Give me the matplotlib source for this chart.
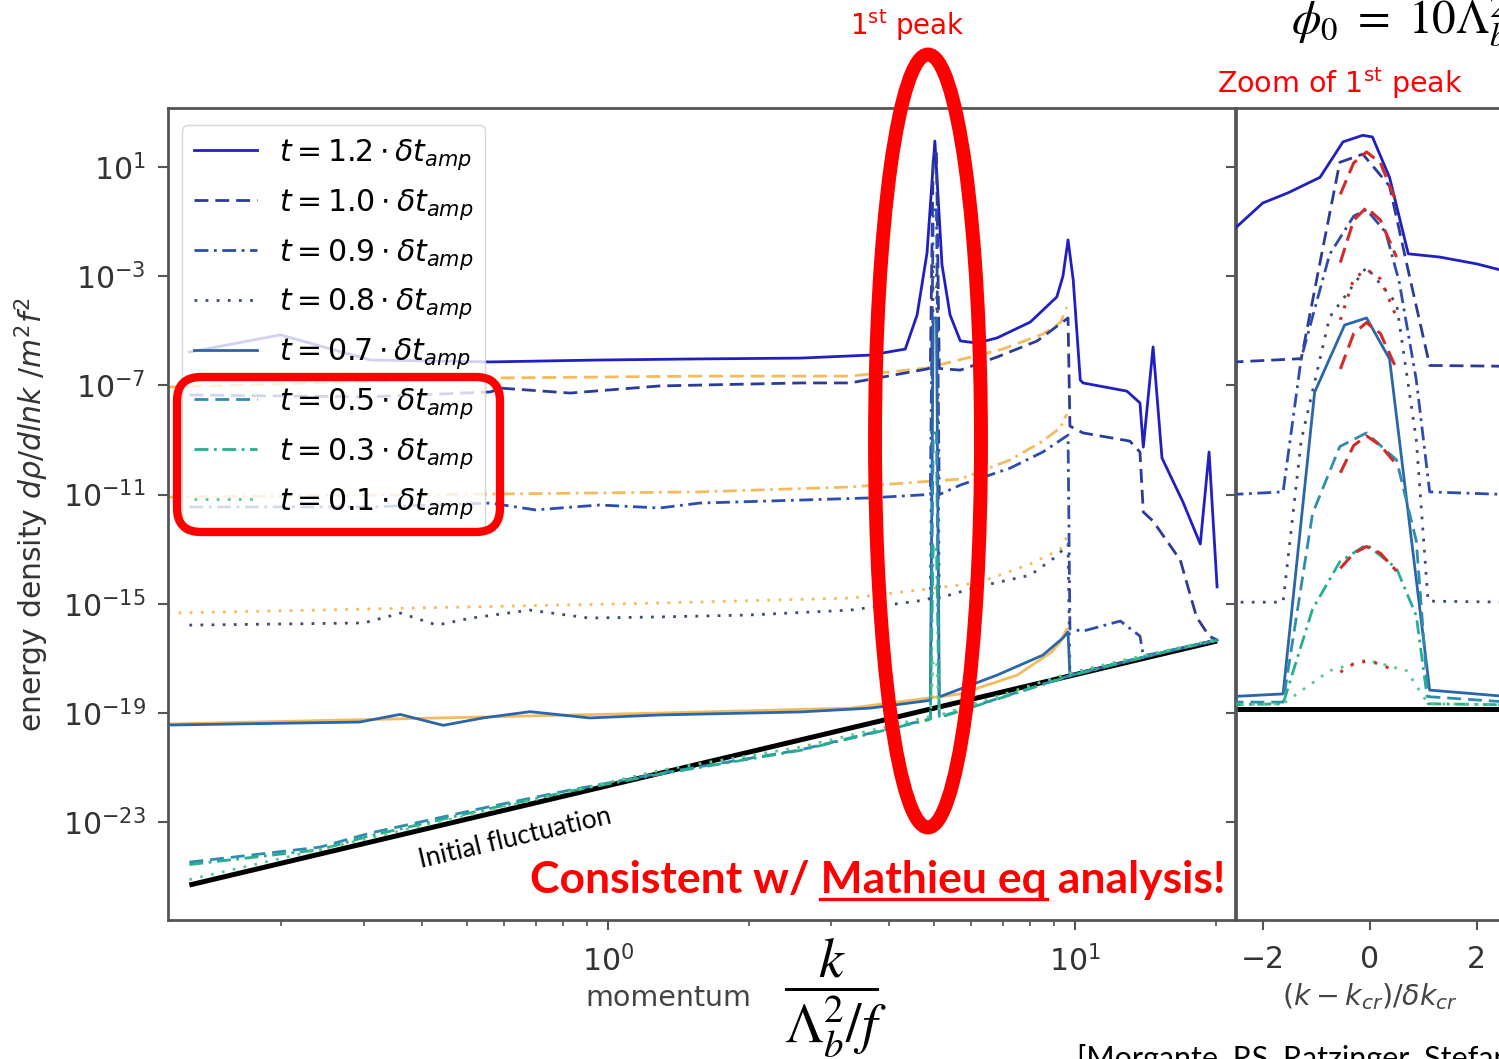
import numpy as np
import matplotlib
matplotlib.use('Agg')
import matplotlib.pyplot as plt
import matplotlib.transforms as mtransforms
from matplotlib.patches import Ellipse, FancyBboxPatch
from matplotlib.lines import Line2D
from matplotlib.ticker import FixedLocator, NullLocator, NullFormatter

W, H = 1499, 1059

# ---- main panel: momentum k  vs  log10(energy density) ----
k_t12 = [0.127, 0.199, 0.31, 0.56, 0.96, 1.57, 2.58, 3.64, 4.33, 4.59, 4.82, 5.01, 5.19, 5.40, 5.68, 6.17,
         6.81, 8.02, 9.14, 9.42, 9.66, 9.91, 10.26, 10.40, 12.91, 13.77, 14.0, 14.69, 15.35, 17.02, 18.54,
         19.36, 20.14]
lr_t12 = [-5.78, -5.15, -6.07, -6.14, -6.07, -6.03, -6.00, -5.89, -5.67, -4.42, -2.15, 1.95, -2.59, -4.42,
          -5.37, -5.45, -5.26, -4.68, -3.76, -3.00, -1.67, -3.14, -6.80, -6.91, -7.21, -7.64, -9.26, -5.59,
          -9.66, -11.27, -12.81, -9.44, -14.38]

k_t10 = [0.127, 0.31, 0.56, 0.59, 0.83, 1.29, 2.58, 3.30, 4.82, 4.90, 4.97, 5.05, 5.12, 5.68, 6.81, 8.3,
         9.66, 9.75, 10.40, 13.1, 13.77, 14.0, 14.69, 16.8, 18.2, 19.36, 20.14]
lr_t10 = [-7.35, -7.42, -7.24, -7.10, -7.28, -7.02, -6.91, -6.91, -6.40, -6.36, 1.50, 1.50, -6.38, -6.44,
          -5.96, -5.37, -4.53, -8.49, -8.74, -9.04, -9.44, -11.64, -11.97, -13.40, -15.48, -16.18, -16.33]

k_t09 = [0.127, 0.31, 0.56, 0.70, 0.96, 1.29, 1.57, 2.58, 3.64, 4.82, 4.90, 4.97, 5.05, 5.12, 5.68, 7.26,
         8.53, 9.66, 9.75, 10.40, 12.5, 13.77, 14.0, 16.0, 20.14]
lr_t09 = [-11.45, -11.45, -11.31, -11.56, -11.38, -11.49, -11.31, -11.20, -11.12, -11.00, -11.00, -0.57,
          -0.57, -11.00, -10.65, -10.03, -9.44, -8.82, -15.92, -16.00, -15.63, -16.18, -16.90, -16.72, -16.33]

k_t08 = [0.127, 0.30, 0.36, 0.43, 0.51, 0.68, 0.91, 1.29, 2.0, 3.30, 4.82, 4.90, 4.97, 5.05, 5.12, 6.17,
         8.02, 9.14, 9.66, 9.75, 13.0, 16.0, 20.14]
lr_t08 = [-15.78, -15.70, -15.34, -15.78, -15.52, -15.23, -15.52, -15.48, -15.41, -15.23, -14.85, -14.79,
          -2.66, -2.66, -14.79, -14.38, -13.95, -13.25, -12.81, -17.60, -17.10, -16.72, -16.33]

k_t07 = [0.114, 0.294, 0.359, 0.444, 0.54, 0.681, 0.914, 1.29, 2.58, 3.64, 4.82, 4.90, 4.97, 5.05, 5.12,
         6.81, 8.53, 9.42, 9.66, 9.75, 13.0, 16.0, 20.14]
lr_t07 = [-19.44, -19.33, -19.05, -19.45, -19.18, -18.95, -19.18, -19.07, -18.96, -18.82, -18.55, -18.52,
          -4.53, -4.53, -18.41, -17.61, -16.88, -16.25, -16.03, -17.62, -17.10, -16.72, -16.33]

k_t05 = [0.127, 0.242, 0.309, 0.54, 0.83, 1.29, 2.58, 4.82, 4.90, 4.97, 5.05, 5.12, 9.66, 13.0, 16.0, 20.14]
lr_t05 = [-24.46, -23.91, -23.40, -22.48, -21.82, -21.21, -20.35, -19.24, -19.20, -8.74, -8.74, -19.15,
          -17.65, -17.08, -16.70, -16.33]

k_t03 = [0.127, 0.242, 0.309, 0.54, 0.83, 1.29, 2.58, 4.82, 4.90, 4.97, 5.05, 5.12, 9.66, 13.0, 16.0, 20.14]
lr_t03 = [-24.55, -24.00, -23.50, -22.55, -21.86, -21.24, -20.37, -19.26, -19.22, -12.85, -12.85, -19.17,
          -17.66, -17.09, -16.71, -16.34]

k_t01 = [0.127, 0.5, 1.29, 2.58, 4.82, 4.90, 4.97, 5.05, 5.12, 9.66, 13.0, 20.14]
lr_t01 = [-25.10, -22.75, -21.10, -20.25, -19.15, -19.12, -17.05, -17.05, -19.08, -17.55, -17.02, -16.30]

k_init = [0.127, 20.14]
lr_init = [-25.30, -16.36]

# analytic (Mathieu) estimates, orange
ka_dash = [0.114, 0.558, 1.57, 3.30, 4.82, 7.0, 8.53, 9.3, 9.6]
la_dash = [-7.06, -6.73, -6.66, -6.66, -6.36, -5.67, -5.12, -4.70, -4.13]
ka_dashdot = [0.114, 0.558, 1.57, 3.30, 5.68, 7.26, 8.53, 9.3, 9.6]
la_dashdot = [-11.09, -10.98, -10.90, -10.72, -10.43, -9.73, -9.04, -8.55, -8.05]
ka_dot = [0.114, 1.29, 3.30, 6.17, 8.02, 9.3, 9.6]
la_dot = [-15.34, -14.97, -14.79, -14.24, -13.54, -13.00, -12.55]
ka_solid = [0.114, 1.29, 3.30, 5.68, 7.52, 8.9, 9.3, 9.6]
la_solid = [-19.40, -19.00, -18.82, -18.30, -17.61, -16.77, -16.40, -15.92]

# ---- zoom panel: (k - k_cr)/dk_cr  vs  log10(energy density) ----
xz_t12 = [-2.62, -2.0, -1.53, -0.93, -0.5, -0.13, 0.05, 0.37, 0.72, 1.31, 2.0, 2.6]
lz_t12 = [-1.43, -0.32, 0.05, 0.62, 1.92, 2.16, 2.10, 0.62, -2.18, -2.30, -2.55, -2.85]
xz_t10 = [-2.62, -1.28, -0.93, -0.56, -0.13, 0.37, 0.72, 1.12, 2.6]
lz_t10 = [-6.15, -6.02, -2.5, 1.17, 1.47, 0.30, -2.80, -6.27, -6.30]
xz_t09 = [-2.62, -1.62, -1.28, -0.75, -0.30, -0.06, 0.30, 0.55, 0.87, 1.12, 2.6]
lz_t09 = [-11.0, -10.9, -6.0, -2.2, -0.80, -0.56, -1.40, -3.20, -6.80, -10.9, -11.0]
xz_t08 = [-2.62, -1.62, -1.28, -0.75, -0.06, 0.50, 0.87, 1.09, 2.6]
lz_t08 = [-14.94, -14.94, -9.0, -4.5, -2.67, -4.0, -9.0, -14.9, -14.94]
xz_t07 = [-2.62, -1.62, -1.03, -0.47, -0.06, 0.37, 1.12, 2.6]
lz_t07 = [-18.4, -18.3, -7.25, -4.79, -4.53, -6.03, -18.16, -18.4]
xz_t05 = [-2.62, -1.62, -1.07, -0.56, -0.06, 0.50, 0.87, 1.09, 2.6]
lz_t05 = [-18.6, -18.6, -11.7, -9.24, -8.74, -9.73, -12.7, -18.4, -18.6]
xz_t03 = [-2.62, -1.62, -1.07, -0.56, -0.06, 0.50, 0.87, 1.09, 2.6]
lz_t03 = [-18.7, -18.66, -15.2, -13.46, -12.83, -13.7, -15.44, -18.66, -18.7]
xz_t01 = [-2.62, -1.62, -0.75, -0.06, 0.69, 1.09, 2.6]
lz_t01 = [-18.7, -18.66, -17.45, -17.05, -17.45, -18.66, -18.7]
xz_init = [-2.6, 2.6]
lz_init = [-18.85, -18.85]

# red arcs: analytic growth near the peak
xr = [-0.55, -0.3, -0.06, 0.2, 0.5]
lr_red10 = [0.0, 1.15, 1.55, 1.15, -0.3]
lr_red09 = [-2.5, -0.95, -0.48, -0.95, -2.3]
lr_red08 = [-4.6, -3.1, -2.75, -3.1, -4.5]
lr_red07 = [-6.4, -5.1, -4.7, -5.1, -6.4]
lr_red05 = [-10.2, -9.2, -8.85, -9.2, -9.9]
lr_red03 = [-13.7, -13.15, -12.9, -13.15, -13.8]
lr_red01 = [-17.5, -17.2, -17.1, -17.2, -17.5]

t_labels = ['1.2', '1.0', '0.9', '0.8', '0.7', '0.5', '0.3', '0.1']
t_colors = ['#2020c0', '#2c3c96', '#2c4cae', '#3d4c74', '#2a66aa', '#2f8cae', '#27ae92', '#5cc890']
t_styles = ['-', '--', '-.', ':', '-', '--', '-.', ':']


def style(ls):
    if ls == '--':
        return dict(dashes=(5, 2.5))
    if ls == '-.':
        return dict(dashes=(5, 2, 1, 2))
    if ls == ':':
        return dict(dashes=(1, 3))
    return dict(ls='-')


fig = plt.figure(figsize=(W / 100, H / 100), dpi=100)
px = mtransforms.Affine2D().scale(1.0 / W, -1.0 / H).translate(0, 1) + fig.transFigure

ax = fig.add_axes([168 / W, 1 - 920 / H, 1067 / W, 812 / H])
ax.set_xscale('log')
ax.set_yscale('log')
ax2 = fig.add_axes([1236 / W, 1 - 920 / H, 267.5 / W, 812 / H], sharey=ax)

orange = '#f2b041'
for kk, ll, ls in [(ka_dash, la_dash, '--'), (ka_dashdot, la_dashdot, '-.'),
                   (ka_dot, la_dot, ':'), (ka_solid, la_solid, '-')]:
    ax.plot(kk, 10.0 ** np.array(ll), color=orange, lw=2, alpha=0.85, **style(ls))

ax.plot(k_init, 10.0 ** np.array(lr_init), color='black', lw=3.6, solid_capstyle='butt', zorder=2.5)

main_k = [k_t12, k_t10, k_t09, k_t08, k_t07, k_t05, k_t03, k_t01]
main_l = [lr_t12, lr_t10, lr_t09, lr_t08, lr_t07, lr_t05, lr_t03, lr_t01]
handles = []
for kk, ll, c, ls, lab in zip(main_k, main_l, t_colors, t_styles, t_labels):
    h, = ax.plot(kk, 10.0 ** np.array(ll), color=c, lw=2, zorder=3, **style(ls),
                 label=r'$t = %s \cdot \delta t_{amp}$' % lab)
    handles.append(h)

# zoom panel
ax2.plot(xz_init, 10.0 ** np.array(lz_init), color='black', lw=3.6, zorder=2.5)
zoom_x = [xz_t12, xz_t10, xz_t09, xz_t08, xz_t07, xz_t05, xz_t03, xz_t01]
zoom_l = [lz_t12, lz_t10, lz_t09, lz_t08, lz_t07, lz_t05, lz_t03, lz_t01]
for xx, ll, c, ls in zip(zoom_x, zoom_l, t_colors, t_styles):
    ax2.plot(xx, 10.0 ** np.array(ll), color=c, lw=2, zorder=3, **style(ls))
red_l = [lr_red10, lr_red09, lr_red08, lr_red07, lr_red05, lr_red03, lr_red01]
red_ls = ['--', '--', ':', '--', '--', '--', ':']
for ll, ls in zip(red_l, red_ls):
    ax2.plot(xr, 10.0 ** np.array(ll), color='#d42a2a', lw=2.2, zorder=4, **style(ls))

# axes formatting
ax.set_xlim(0.1143, 22.0)
ax.set_ylim(10.0 ** -26.58, 10.0 ** 3.16)
ax.yaxis.set_major_locator(FixedLocator([10.0 ** e for e in range(-23, 2, 4)]))
ax.yaxis.set_minor_locator(NullLocator())
ax.xaxis.set_minor_formatter(NullFormatter())
ax2.set_xlim(-2.5, 2.5)
ax2.set_xticks([-2, 0, 2])
ax2.set_xticklabels(['\u22122', '0', '2'])

for a in (ax, ax2):
    a.tick_params(which='major', labelsize=21.5, labelcolor='#333333', color='#555555', length=7, width=1.5)
    a.tick_params(which='minor', color='#555555', length=4, width=1.2)
    a.tick_params(axis='y', pad=9)
    a.tick_params(axis='x', pad=11)
    for s in a.spines.values():
        s.set_color('#555555')
        s.set_linewidth(2)
ax2.tick_params(labelleft=False)

ax.legend(handles=handles, loc='upper left', bbox_to_anchor=(0.0131, 0.979), borderaxespad=0,
          fontsize=21.5, handlelength=2.1, handletextpad=0.75, labelspacing=0.5)

# labels
fig.text(32, 515, r'energy density $d\rho/dlnk\ /m^2f^2$', rotation=90, ha='center', va='center',
         fontsize=21.5, color='#333333', transform=px)
fig.text(668, 998, 'momentum', ha='center', va='center', fontsize=20.5, color='#444444', transform=px)
fig.text(835, 998, r'$\dfrac{k}{\Lambda_b^2/f}$', ha='center', va='center', fontsize=40,
         math_fontfamily='stix', transform=px)
fig.text(1370, 997, r'$(k-k_{cr})/\delta k_{cr}$', ha='center', va='center', fontsize=20.5,
         color='#444444', transform=px)

# annotations
fig.text(907, 25, r'1$^{\mathrm{st}}$ peak', ha='center', va='center', fontsize=20, color='red', transform=px)
fig.text(1340, 83, r'Zoom of 1$^{\mathrm{st}}$ peak', ha='center', va='center', fontsize=20.5, color='red',
         transform=px)
fig.text(1291, 20, r'$\phi_0\ =\ 10\Lambda_b^2$', ha='left', va='center', fontsize=34,
         math_fontfamily='stix', transform=px)
fig.text(515, 838, 'Initial fluctuation', rotation=13.2, rotation_mode='anchor', ha='center', va='center',
         fontsize=19, family='Lato', transform=px)
fig.text(1077, 1044, '[Morgante, RS, Ratzinger, Stefanek, 2021]', ha='left', va='top', fontsize=22,
         family='Lato', transform=px)

fig.add_artist(Ellipse((928, 441), 106, 773, fill=False, ec='red', lw=10, transform=px))
fig.add_artist(FancyBboxPatch((177, 377), 323, 155, boxstyle='round,pad=0,rounding_size=24', fill=False,
                              ec='red', lw=6, transform=px))

red_kw = dict(fontsize=32, fontweight='bold', family='Lato', color='red')
x0, base = 530, 893
fig.text(x0, base, 'Consistent w/ Mathieu eq analysis!', ha='left', va='baseline', transform=px, **red_kw)
fig.canvas.draw()
rend = fig.canvas.get_renderer()


def text_width(s):
    t = fig.text(0, 0, s, **red_kw)
    w = t.get_window_extent(renderer=rend).width
    t.remove()
    return w


u0 = x0 + text_width('Consistent w/ M') - text_width('M')
u1 = x0 + text_width('Consistent w/ Mathieu eq')
fig.add_artist(Line2D([u0, u1], [base + 6, base + 6], color='red', lw=2.4, transform=px))

fig.savefig('out.png', dpi=100)
